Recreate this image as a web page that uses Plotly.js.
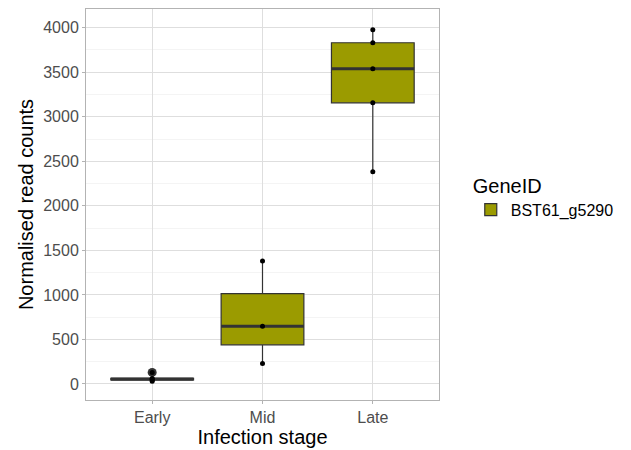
<!DOCTYPE html>
<html>
<head>
<meta charset="utf-8">
<script src="https://cdn.plot.ly/plotly-3.0.1.min.js"></script>
<style>html,body{margin:0;padding:0;background:#fff;}#chart{width:631px;height:450px;}</style>
</head>
<body>
<div id="chart"></div>
<script>
// Data
const stages = ["Early", "Mid", "Late"];
const earlyCounts = [30, 45, 55, 62, 130];
const midCounts = [230, 648, 1380];
const lateCounts = [2382, 3157, 3539, 3831, 3978];
const geneId = "BST61_g5290";

const groups = [earlyCounts, midCounts, lateCounts];
const fillColor = "#9b9b00";
const lineColor = "#333333";

function median(arr) {
  const s = arr.slice().sort((a, b) => a - b);
  const n = s.length;
  return n % 2 ? s[(n - 1) / 2] : (s[n / 2 - 1] + s[n / 2]) / 2;
}

const bx = [], by = [];
groups.forEach((g, i) => g.forEach(v => { bx.push(i + 1); by.push(v); }));

const traces = [];
traces.push({
  type: "box",
  x: bx, y: by,
  name: geneId,
  width: 0.75,
  whiskerwidth: 0,
  fillcolor: fillColor,
  line: {color: lineColor, width: 1.2},
  boxpoints: "outliers",
  marker: {color: lineColor, size: 9, outliercolor: lineColor, line: {width: 0}},
  quartilemethod: "inclusive",
  showlegend: true,
  hoverinfo: "skip"
});

// Thick median bars
groups.forEach((g, i) => {
  const m = median(g);
  traces.push({
    type: "scatter", mode: "lines",
    x: [i + 1 - 0.375, i + 1 + 0.375], y: [m, m],
    line: {color: lineColor, width: 3.2},
    showlegend: false, hoverinfo: "skip"
  });
});

// Individual points
traces.push({
  type: "scatter", mode: "markers",
  x: bx, y: by,
  marker: {color: "#000000", size: 5},
  showlegend: false, hoverinfo: "skip"
});

const layout = {
  width: 631, height: 450,
  margin: {l: 86, r: 192, t: 9, b: 50},
  paper_bgcolor: "#ffffff",
  plot_bgcolor: "#ffffff",
  font: {family: "Liberation Sans, Arial, sans-serif", color: "#000000"},
  showlegend: true,
  xaxis: {
    range: [0.4, 3.6],
    tickvals: [1, 2, 3],
    ticktext: stages,
    showgrid: true, gridcolor: "#dedede", gridwidth: 1,
    zeroline: false,
    showline: true, linecolor: "#b3b3b3", linewidth: 1, mirror: true,
    ticks: "outside", ticklen: 3, tickcolor: "#b3b3b3",
    tickfont: {size: 16, color: "#4d4d4d"},
    title: {text: "Infection stage", font: {size: 20, color: "#000000"}, standoff: 1}
  },
  yaxis: {
    range: [-180, 4210],
    tickvals: [0, 500, 1000, 1500, 2000, 2500, 3000, 3500, 4000],
    showgrid: true, gridcolor: "#dedede", gridwidth: 1,
    minor: {tickvals: [250, 750, 1250, 1750, 2250, 2750, 3250, 3750], showgrid: true, gridcolor: "#ededed", gridwidth: 0.6},
    zeroline: false,
    showline: true, linecolor: "#b3b3b3", linewidth: 1, mirror: true,
    ticks: "outside", ticklen: 3, tickcolor: "#b3b3b3",
    tickfont: {size: 16, color: "#4d4d4d"},
    title: {text: "Normalised read counts", font: {size: 20, color: "#000000"}, standoff: 4}
  },
  legend: {
    x: 1.09, xanchor: "left",
    y: 0.52, yanchor: "middle",
    title: {text: "GeneID", font: {size: 20, color: "#000000"}},
    font: {size: 16, color: "#000000"},
    bgcolor: "rgba(0,0,0,0)",
    itemwidth: 30
  }
};

Plotly.newPlot("chart", traces, layout, {displayModeBar: false, staticPlot: true});
</script>
</body>
</html>
